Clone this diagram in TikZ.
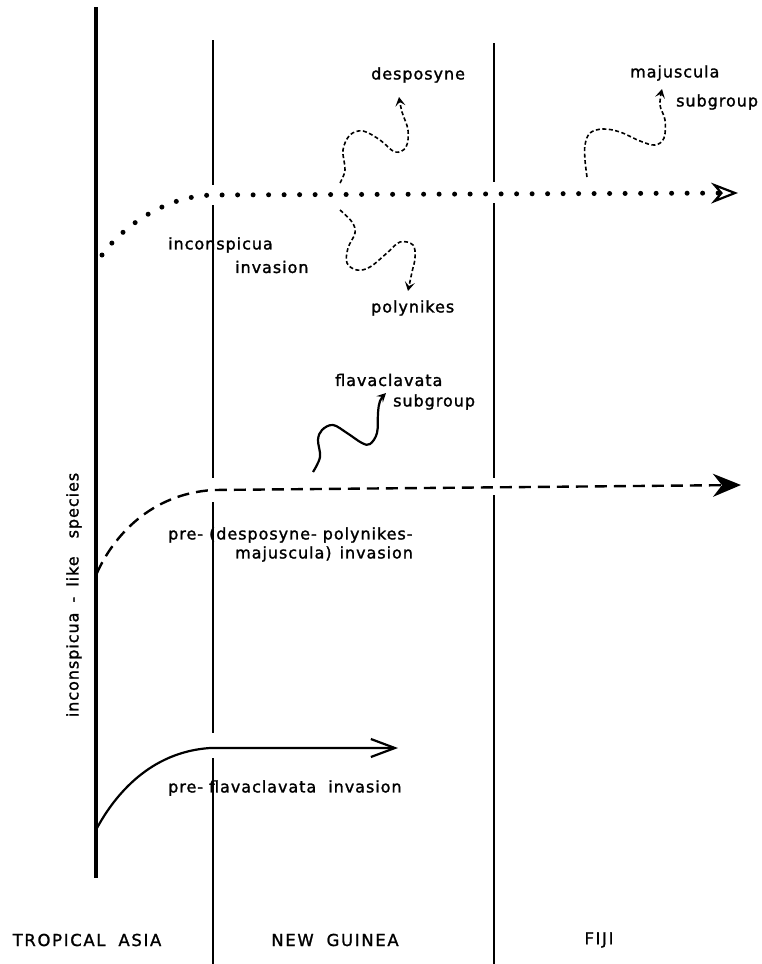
\documentclass[tikz,border=0pt]{standalone}
\usepackage{fontspec}
\setmainfont{DejaVu Sans}[LetterSpace=6, FakeBold=1.5]
\newfontfamily\regionfont{DejaVu Sans}[LetterSpace=10, FakeBold=1.2]
\usetikzlibrary{arrows.meta}
\begin{document}
\begin{tikzpicture}[x=1pt,y=-1pt,
  lbl/.style={font=\fontsize{16}{18}\selectfont, inner sep=0pt},
  region/.style={font=\regionfont\fontsize{16.5}{18}\selectfont, inner sep=0pt},
  axisline/.style={line width=4.5pt},
  border/.style={line width=1.2pt},
  dotline/.style={line width=5pt, line cap=round, dash pattern=on 0pt off 15.5pt},
  dashline/.style={line width=2.4pt, dash pattern=on 12pt off 7pt},
  solidline/.style={line width=2.2pt},
  wavy/.style={line width=1.6pt, dash pattern=on 4pt off 2.5pt},
  wavysolid/.style={line width=2.2pt},
  smalltip/.style={-{Stealth[length=9pt,width=10pt,inset=4pt]}}
]
\useasboundingbox (0,0) rectangle (762,964);

% main vertical axis
\coordinate (axT) at (96,7);
\coordinate (axB) at (96,878);
\draw[axisline] (axT) -- (axB);

% New Guinea border (with gaps at crossings)
\coordinate (ng0) at (213,40);
\coordinate (ng1) at (213,185);
\coordinate (ng2) at (213,205);
\coordinate (ng3) at (213,478);
\coordinate (ng4) at (213,502);
\coordinate (ng5) at (213,733);
\coordinate (ng6) at (213,758);
\coordinate (ng7) at (213,964);
\draw[border] (ng0) -- (ng1) (ng2) -- (ng3) (ng4) -- (ng5) (ng6) -- (ng7);

% Fiji border
\coordinate (fj0) at (494,43);
\coordinate (fj1) at (494,182);
\coordinate (fj2) at (494,203);
\coordinate (fj3) at (494,478);
\coordinate (fj4) at (494,495);
\coordinate (fj5) at (494,964);
\draw[border] (fj0) -- (fj1) (fj2) -- (fj3) (fj4) -- (fj5);

% inconspicua invasion (dotted)
\coordinate (dS) at (102,255);
\coordinate (dM) at (213,195);
\coordinate (dE) at (738,193);
\draw[dotline, -{Stealth[length=27pt,width=21pt,inset=9pt,open,line width=2.2pt]}]
  (dS) .. controls (120,230) and (162,196) .. (dM) -- (dE);

% pre-(desposyne-polynikes-majuscula) invasion (dashed)
\coordinate (hS) at (97,573);
\coordinate (hM) at (213,490);
\coordinate (hE) at (741,485);
\draw[dashline, -{Stealth[length=28pt,width=23pt,inset=9pt]}]
  (hS) .. controls (113,537) and (150,494) .. (hM) -- (hE);

% pre-flavaclavata invasion (solid)
\coordinate (sS) at (97,828);
\coordinate (sM) at (210,748);
\coordinate (sE) at (398,748);
\draw[solidline, -{Straight Barb[length=24pt,width=18pt,line width=2.2pt]}]
  (sS) .. controls (115,795) and (150,752) .. (sM) -- (sE);

% wavy offshoots
\coordinate (w1s) at (340,183);
\coordinate (w1e) at (399,97);
\draw[wavy, smalltip] plot[smooth, tension=0.6] coordinates
  {(w1s) (345,170) (343,150) (350,135) (363,131) (380,140) (395,152) (406,147) (408,130) (402,112) (w1e)};

\coordinate (w2s) at (340,210);
\coordinate (w2e) at (408,291);
\draw[wavy, smalltip] plot[smooth, tension=0.6] coordinates
  {(w2s) (352,222) (355,233) (348,248) (347,263) (357,270) (370,267) (387,253) (400,242) (413,245) (415,258) (412,272) (w2e)};

\coordinate (w3s) at (587,177);
\coordinate (w3e) at (662,89);
\draw[wavy, smalltip] plot[smooth, tension=0.6] coordinates
  {(w3s) (585,160) (585,145) (590,133) (603,129) (620,132) (640,141) (655,145) (664,138) (665,120) (660,105) (w3e)};

\coordinate (w4s) at (313,472);
\coordinate (w4e) at (386,393);
\draw[wavysolid, -{Stealth[length=9pt,width=9pt,inset=3.5pt]}] plot[smooth, tension=0.6] coordinates
  {(w4s) (320,457) (318,440) (322,430) (333,425) (347,433) (362,443) (370,444) (377,433) (378,413) (380,401) (w4e)};

% labels
\node[lbl, anchor=west] (desp) at (371,75) {desposyne};
\node[lbl, anchor=west] (poly) at (371,308) {polynikes};
\node[lbl, anchor=west] (maj1) at (630,73) {majuscula};
\node[lbl, anchor=west] (maj2) at (676,102) {subgroup};
\node[lbl, anchor=west] (fla1) at (335,380) {flavaclavata};
\node[lbl, anchor=west] (fla2) at (393,402) {subgroup};
\node[lbl, anchor=west] (inc1) at (168,245) {inconspicua};
\node[lbl, anchor=west] (inc2) at (235,267) {invasion};
\node[lbl, anchor=west] (pre1) at (168,535) {pre-\hspace{6pt}(desposyne-\hspace{6pt}polynikes-};
\node[lbl, anchor=west] (pre2) at (235,554) {majuscula)\hspace{2pt} invasion};
\node[lbl, anchor=west] (pre3) at (168,788) {pre-\hspace{6pt}flavaclavata\hspace{6pt} invasion};
\node[lbl, rotate=90] (side) at (74,595) {inconspicua\hspace{4pt} -\hspace{4pt} like\hspace{12pt} species};

\node[region] (ta) at (87,940) {TROPICAL\hspace{6pt} ASIA};
\node[region] (ng) at (335,940) {NEW\hspace{6pt} GUINEA};
\node[region] (fj) at (599,940) {FIJI};
\end{tikzpicture}
\end{document}
